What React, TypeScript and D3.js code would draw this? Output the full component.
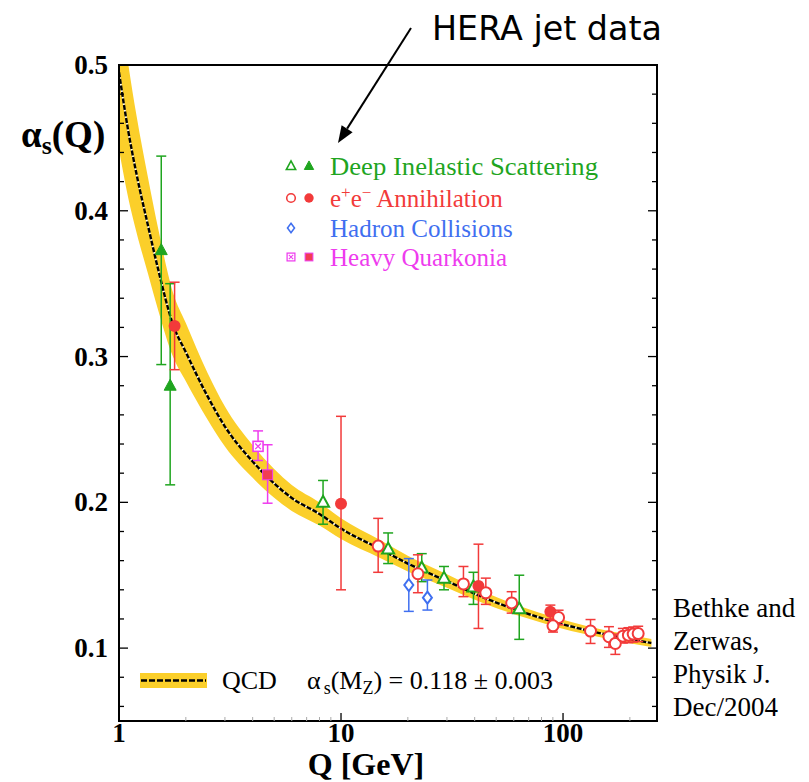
import React from "react";
import * as d3 from "d3";

// Running coupling band: scale Q [GeV], central alpha_s and half-width of the band
const curveQ = [1.0, 1.1, 1.2, 1.35, 1.5, 1.75, 2.0, 2.5, 3.0, 4.0, 5.0, 6.0, 8.0, 10, 15, 20, 30, 45, 65, 91.2, 130, 180, 250];
const curveAlpha = [0.495, 0.455, 0.425, 0.39, 0.36, 0.322, 0.303, 0.273, 0.252, 0.228, 0.213, 0.203, 0.192, 0.182, 0.168, 0.158, 0.146, 0.134, 0.125, 0.118, 0.112, 0.1075, 0.1035];
const curveHalfWidth = [0.053, 0.046, 0.04, 0.033, 0.028, 0.022, 0.02, 0.016, 0.0137, 0.0112, 0.0098, 0.0089, 0.0079, 0.0071, 0.0061, 0.0054, 0.0046, 0.0039, 0.0034, 0.0031, 0.0029, 0.0028, 0.0027];

// Deep inelastic scattering
const disQ = [1.55, 1.7, 8.3, 16.3, 23.1, 29.1, 39.5, 63.5];
const disAlpha = [0.373, 0.28, 0.2, 0.168, 0.155, 0.148, 0.142, 0.127];
const disLow = [0.2945, 0.212, 0.185, 0.158, 0.1456, 0.14, 0.13, 0.106];
const disHigh = [0.4375, 0.35, 0.215, 0.179, 0.1648, 0.156, 0.152, 0.15];
const disFilled = [true, true, false, false, false, false, false, false];

// e+e- annihilation
const eeQ = [1.78, 10.0, 14.7, 22.2, 35.6, 41.6, 44.9, 58.7, 87.7, 95.5, 90.1, 133, 161, 172, 186, 197, 207, 218];
const eeAlpha = [0.321, 0.199, 0.17, 0.151, 0.144, 0.1426, 0.138, 0.131, 0.125, 0.121, 0.1153, 0.1117, 0.1078, 0.1032, 0.1082, 0.1089, 0.1096, 0.11];
const eeLow = [0.291, 0.14, 0.152, 0.138, 0.1353, 0.1135, 0.13, 0.124, 0.12, 0.116, 0.111, 0.1032, 0.1005, 0.0957, 0.1035, 0.1037, 0.1042, 0.1045];
const eeHigh = [0.351, 0.259, 0.189, 0.164, 0.156, 0.1713, 0.148, 0.1387, 0.1295, 0.126, 0.1195, 0.1196, 0.1147, 0.1096, 0.1135, 0.114, 0.1145, 0.115];
const eeFilled = [true, true, false, false, false, true, false, false, true, false, false, false, false, false, false, false, false, false];

// Hadron collisions
const hadQ = [20.2, 24.5];
const hadAlpha = [0.1433, 0.1346];
const hadLow = [0.1252, 0.1261];
const hadHigh = [0.1614, 0.1467];

// Heavy quarkonia
const hqQ = [4.23, 4.67];
const hqAlpha = [0.2384, 0.2189];
const hqLow = [0.2287, 0.1994];
const hqHigh = [0.249, 0.2395];
const hqFilled = [false, true];

const yMajorTicks = [0.1, 0.2, 0.3, 0.4, 0.5];
const yMinorTicks = [0.06, 0.08, 0.12, 0.14, 0.16, 0.18, 0.22, 0.24, 0.26, 0.28, 0.32, 0.34, 0.36, 0.38, 0.42, 0.44, 0.46, 0.48];
const xMajorTicks = [1, 10, 100];
const xMinorTicks = [2, 3, 4, 5, 6, 7, 8, 9, 20, 30, 40, 50, 60, 70, 80, 90, 200];

const GREEN = "#1fa51f";
const RED = "#f23a3a";
const BLUE = "#3f6ff0";
const MAGENTA = "#ee3cee";
const YELLOW = "#fbcf2a";
const SERIF = "'Liberation Serif', 'Times New Roman', Times, serif";

const W = 809;
const H = 782;
const left = 119, right = 657, top = 65, bottom = 721;

const x = d3.scaleLog().domain([1, 265]).range([left, right]);
const y = d3.scaleLinear().domain([0.05, 0.5]).range([bottom, top]);

type Kind = "triOpen" | "triFilled" | "circOpen" | "circFilled" | "diamond" | "boxX" | "sqFilled";

function Marker({ kind, cx, cy, color, s = 1 }: { kind: Kind; cx: number; cy: number; color: string; s?: number }) {
  switch (kind) {
    case "triOpen":
    case "triFilled": {
      const hw = 6 * s, up = 6.5 * s, dn = 4.5 * s;
      const d = `M${cx},${cy - up}L${cx + hw},${cy + dn}L${cx - hw},${cy + dn}Z`;
      return kind === "triOpen"
        ? <path d={d} fill="#fff" stroke={color} strokeWidth={2 * s} strokeLinejoin="miter" />
        : <path d={d} fill={color} stroke={color} strokeWidth={1} />;
    }
    case "circOpen":
      return <circle cx={cx} cy={cy} r={5.5 * s} fill="#fff" stroke={color} strokeWidth={2 * s} />;
    case "circFilled":
      return <circle cx={cx} cy={cy} r={6 * s} fill={color} />;
    case "diamond": {
      const a = 4.5 * s, b = 6 * s;
      return <path d={`M${cx},${cy - b}L${cx + a},${cy}L${cx},${cy + b}L${cx - a},${cy}Z`} fill="#fff" stroke={color} strokeWidth={2 * s} />;
    }
    case "boxX": {
      const h = 5 * s, k = 2.8 * s;
      return (
        <g>
          <rect x={cx - h} y={cy - h} width={2 * h} height={2 * h} fill="#fff" stroke={color} strokeWidth={1.6 * s} />
          <path d={`M${cx - k},${cy - k}L${cx + k},${cy + k}M${cx + k},${cy - k}L${cx - k},${cy + k}`} stroke={color} strokeWidth={1.3 * s} />
        </g>
      );
    }
    case "sqFilled": {
      const h = 5 * s;
      return <rect x={cx - h} y={cy - h} width={2 * h} height={2 * h} fill="#f23c52" stroke={MAGENTA} strokeWidth={1} />;
    }
  }
  return null;
}

function ErrorBar({ q, lo, hi, color }: { q: number; lo: number; hi: number; color: string }) {
  const cx = x(q);
  const c = 5;
  return (
    <g stroke={color} strokeWidth={1.5} fill="none">
      <line x1={cx} x2={cx} y1={y(lo)} y2={y(hi)} />
      <line x1={cx - c} x2={cx + c} y1={y(lo)} y2={y(lo)} />
      <line x1={cx - c} x2={cx + c} y1={y(hi)} y2={y(hi)} />
    </g>
  );
}

export default function App() {
  const idx = d3.range(curveQ.length);
  const band = d3
    .area<number>()
    .x((i) => x(curveQ[i]))
    .y0((i) => y(curveAlpha[i] - curveHalfWidth[i]))
    .y1((i) => y(curveAlpha[i] + curveHalfWidth[i]))
    .curve(d3.curveMonotoneX)(idx) as string;
  const centre = d3
    .line<number>()
    .x((i) => x(curveQ[i]))
    .y((i) => y(curveAlpha[i]))
    .curve(d3.curveMonotoneX)(idx) as string;

  const series: { q: number; a: number; lo: number; hi: number; color: string; kind: Kind }[] = [];
  disQ.forEach((q, i) => series.push({ q, a: disAlpha[i], lo: disLow[i], hi: disHigh[i], color: GREEN, kind: disFilled[i] ? "triFilled" : "triOpen" }));
  eeQ.forEach((q, i) => series.push({ q, a: eeAlpha[i], lo: eeLow[i], hi: eeHigh[i], color: RED, kind: eeFilled[i] ? "circFilled" : "circOpen" }));
  hadQ.forEach((q, i) => series.push({ q, a: hadAlpha[i], lo: hadLow[i], hi: hadHigh[i], color: BLUE, kind: "diamond" }));
  hqQ.forEach((q, i) => series.push({ q, a: hqAlpha[i], lo: hqLow[i], hi: hqHigh[i], color: MAGENTA, kind: hqFilled[i] ? "sqFilled" : "boxX" }));

  // arrow from the annotation down to the DIS entry
  const ax0 = 411, ay0 = 28, ax1 = 338, ay1 = 143;
  const len = Math.hypot(ax1 - ax0, ay1 - ay0);
  const ux = (ax1 - ax0) / len, uy = (ay1 - ay0) / len;
  const hl = 17, hw = 6.5;
  const bx = ax1 - ux * hl, by = ay1 - uy * hl;
  const head = `M${ax1},${ay1}L${bx - uy * hw},${by + ux * hw}L${bx + uy * hw},${by - ux * hw}Z`;

  const legendRows = [
    { y: 175, color: GREEN, marks: ["triOpen", "triFilled"] as Kind[] },
    { y: 207, color: RED, marks: ["circOpen", "circFilled"] as Kind[] },
    { y: 237, color: BLUE, marks: ["diamond"] as Kind[] },
    { y: 266, color: MAGENTA, marks: ["boxX", "sqFilled"] as Kind[] },
  ];

  return (
    <svg width={W} height={H} style={{ position: "absolute", left: 0, top: 0, background: "#fff" }} xmlns="http://www.w3.org/2000/svg">
      <rect x={0} y={0} width={W} height={H} fill="#fff" />
      <defs>
        <clipPath id="plotArea">
          <rect x={left} y={top} width={right - left} height={bottom - top} />
        </clipPath>
      </defs>

      {/* QCD band and central curve */}
      <g clipPath="url(#plotArea)">
        <path d={band} fill={YELLOW} />
        <path d={centre} fill="none" stroke="#fff" strokeWidth={1.6} />
        <path d={centre} fill="none" stroke="#000" strokeWidth={2.4} strokeDasharray="5 1.6" />
      </g>

      {/* measurements */}
      {series.map((p, i) => <ErrorBar key={"e" + i} q={p.q} lo={p.lo} hi={p.hi} color={p.color} />)}
      {series.map((p, i) => <Marker key={"m" + i} kind={p.kind} cx={x(p.q)} cy={y(p.a)} color={p.color} />)}

      {/* frame and ticks */}
      <rect x={left} y={top} width={right - left} height={bottom - top} fill="none" stroke="#000" strokeWidth={2} />
      <g stroke="#000" strokeWidth={1.3}>
        {yMajorTicks.map((v) => (
          <g key={"ym" + v}>
            <line x1={left} x2={left + 9} y1={y(v)} y2={y(v)} />
            <line x1={right} x2={right - 9} y1={y(v)} y2={y(v)} />
          </g>
        ))}
        {yMinorTicks.map((v) => (
          <g key={"yn" + v}>
            <line x1={left} x2={left + 5} y1={y(v)} y2={y(v)} />
            <line x1={right} x2={right - 5} y1={y(v)} y2={y(v)} />
          </g>
        ))}
        {xMajorTicks.slice(1).map((v) => (
          <line key={"xm" + v} x1={x(v)} x2={x(v)} y1={bottom} y2={bottom - 8} />
        ))}
      </g>
      <g stroke="#aaa" strokeWidth={1}>
        {xMinorTicks.map((v) => (
          <line key={"xn" + v} x1={x(v)} x2={x(v)} y1={bottom} y2={bottom - 4} />
        ))}
      </g>

      {/* axis labels */}
      <g fontFamily={SERIF} fontWeight="bold" fontSize={27} fill="#000">
        {yMajorTicks.map((v) => (
          <text key={"yl" + v} x={108} y={y(v) + 9} textAnchor="end">{v.toFixed(1)}</text>
        ))}
      </g>
      <g fontFamily={SERIF} fontWeight="bold" fontSize={27} fill="#000">
        {xMajorTicks.map((v) => (
          <text key={"xl" + v} x={x(v)} y={742} textAnchor="middle">{String(v)}</text>
        ))}
      </g>
      <text x={366} y={775} textAnchor="middle" fontFamily={SERIF} fontWeight="bold" fontSize={32}>Q [GeV]</text>
      <text x={21} y={147} fontFamily={SERIF} fontWeight="bold" fontSize={37}>
        α<tspan fontSize={26} dy={7}>s</tspan><tspan dy={-7}>(Q)</tspan>
      </text>

      {/* data legend */}
      {legendRows.map((r, i) => (
        <g key={"lg" + i}>
          {r.marks.map((k, j) => (
            <Marker key={j} kind={k} cx={291 + j * 18} cy={r.y - 9} color={r.color} s={0.78} />
          ))}
        </g>
      ))}
      <g fontFamily={SERIF} fontSize={25}>
        <text x={330} y={175} fill={GREEN} textLength={268} lengthAdjust="spacingAndGlyphs">Deep Inelastic Scattering</text>
        <text x={330} y={207} fill={RED}>
          e<tspan fontSize={17} dy={-9}>+</tspan><tspan dy={9}>e</tspan><tspan fontSize={17} dy={-9}>−</tspan><tspan dy={9}> Annihilation</tspan>
        </text>
        <text x={330} y={237} fill={BLUE}>Hadron Collisions</text>
        <text x={330} y={266} fill={MAGENTA}>Heavy Quarkonia</text>
      </g>

      {/* QCD legend */}
      <rect x={140} y={673} width={67} height={15} fill={YELLOW} />
      <line x1={141} x2={206} y1={680.5} y2={680.5} stroke="#000" strokeWidth={2.4} strokeDasharray="6 2" />
      <g fontFamily={SERIF} fontSize={26} fill="#000">
        <text x={222} y={689}>QCD</text>
        <text x={307} y={689}>
          α<tspan fontSize={18} dx={3} dy={5}>s</tspan><tspan dy={-5}>(M</tspan><tspan fontSize={18} dy={5}>Z</tspan><tspan dy={-5}>) = 0.118 ± 0.003</tspan>
        </text>
      </g>

      {/* annotation */}
      <text x={432} y={40} fontFamily="'DejaVu Sans', Verdana, sans-serif" fontSize={33} textLength={230} lengthAdjust="spacingAndGlyphs">HERA jet data</text>
      <line x1={ax0} y1={ay0} x2={bx} y2={by} stroke="#000" strokeWidth={2} />
      <path d={head} fill="#000" />

      {/* reference note */}
      <g fontFamily={SERIF} fontSize={27} fill="#000">
        <text x={673} y={617}>Bethke and</text>
        <text x={673} y={650}>Zerwas,</text>
        <text x={673} y={683}>Physik J.</text>
        <text x={673} y={716}>Dec/2004</text>
      </g>
    </svg>
  );
}
